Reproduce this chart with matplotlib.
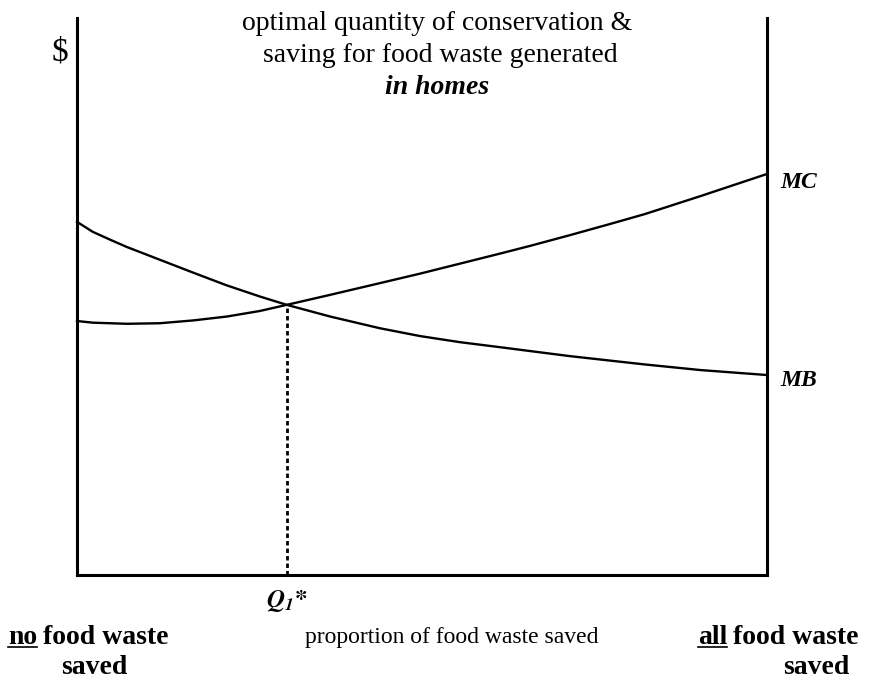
import matplotlib
matplotlib.use("Agg")
import matplotlib.pyplot as plt
from matplotlib.lines import Line2D

plt.rcParams['font.family'] = ['Liberation Serif', 'DejaVu Serif']
plt.rcParams['mathtext.fontset'] = 'stix'

# Valores (x = proporción ahorrada, y = $ en unidades arbitrarias)
x_prop = [0, 0.023, 0.048, 0.072, 0.12, 0.168, 0.217, 0.265, 0.304, 0.367,
          0.439, 0.497, 0.555, 0.613, 0.657, 0.714, 0.772, 0.823, 0.903, 1.0]
mb = [63.4, 61.6, 60.2, 58.9, 56.6, 54.3, 52.0, 50.0, 48.5, 46.4,
      44.3, 42.9, 41.8, 40.9, 40.2, 39.3, 38.5, 37.8, 36.8, 35.9]
mc = [45.6, 45.3, 45.2, 45.1, 45.2, 45.7, 46.4, 47.4, 48.5, 50.3,
      52.4, 54.1, 55.9, 57.7, 59.1, 61.0, 63.0, 64.8, 68.0, 72.0]
q1_x = 0.304
q1_y = 48.5

W, H = 878, 681


def px(x, y):
    # posición en píxeles (desde arriba-izquierda) -> fracción de la figura
    return x / W, 1 - y / H


fig = plt.figure(figsize=(W / 100, H / 100), dpi=100)
ax = fig.add_axes([77 / W, (H - 575) / H, 690 / W, 557 / H])

# Curvas MB y MC
ax.plot(x_prop, mb, color='black', lw=1.7, solid_joinstyle='round', clip_on=False)
ax.plot(x_prop, mc, color='black', lw=1.7, solid_joinstyle='round', clip_on=False)

# Línea punteada en Q1*
ax.plot([q1_x, q1_x], [0, q1_y], color='black', lw=2.0, linestyle=(0, (1.6, 1.1)))

ax.set_xlim(0, 1)
ax.set_ylim(0, 100)
ax.set_xticks([])
ax.set_yticks([])
ax.spines['top'].set_visible(False)
for s in ['left', 'right', 'bottom']:
    ax.spines[s].set_linewidth(2.2)

# Etiquetas de curvas
ax.text(1.019, 70.4, 'MC', fontsize=17, fontweight='bold', fontstyle='italic',
        ha='left', va='center')
ax.text(1.019, 35.0, 'MB', fontsize=17, fontweight='bold', fontstyle='italic',
        ha='left', va='center')
ax.text(q1_x, -4.6, r'$\mathbfit{Q}_{\mathbfit{1}}\mathbf{*}$', fontsize=18,
        ha='center', va='center', clip_on=False)

# Título y eje
fig.text(*px(437, 24), 'optimal quantity of conservation &', fontsize=20,
         ha='center', va='center')
fig.text(*px(440, 55), 'saving for food waste generated', fontsize=20,
         ha='center', va='center')
fig.text(*px(437, 88), 'in homes', fontsize=20, fontweight='bold',
         fontstyle='italic', ha='center', va='center')
fig.text(*px(60, 52), '$', fontsize=24, ha='center', va='center')

fig.text(*px(452, 637), 'proportion of food waste saved', fontsize=17,
         ha='center', va='center')

# Etiquetas de los extremos con subrayado
t_no = fig.text(*px(8, 637), 'no', fontsize=20, fontweight='bold',
                ha='left', va='center')
t_all = fig.text(*px(698, 637), 'all', fontsize=20, fontweight='bold',
                 ha='left', va='center')
fig.canvas.draw()
r = fig.canvas.get_renderer()
for t, rest in [(t_no, 'food waste'), (t_all, 'food waste')]:
    bb = t.get_window_extent(r)
    fig.text((bb.x1 + 6) / W, t.get_position()[1], rest, fontsize=20,
             fontweight='bold', ha='left', va='center')
    yl = (bb.y0 + 3) / H
    fig.add_artist(Line2D([bb.x0 / W, bb.x1 / W], [yl, yl], color='black',
                          lw=1.2, transform=fig.transFigure))

fig.text(*px(94, 667), 'saved', fontsize=20, fontweight='bold',
         ha='center', va='center')
fig.text(*px(816, 667), 'saved', fontsize=20, fontweight='bold',
         ha='center', va='center')

fig.savefig('out.png', dpi=100)
